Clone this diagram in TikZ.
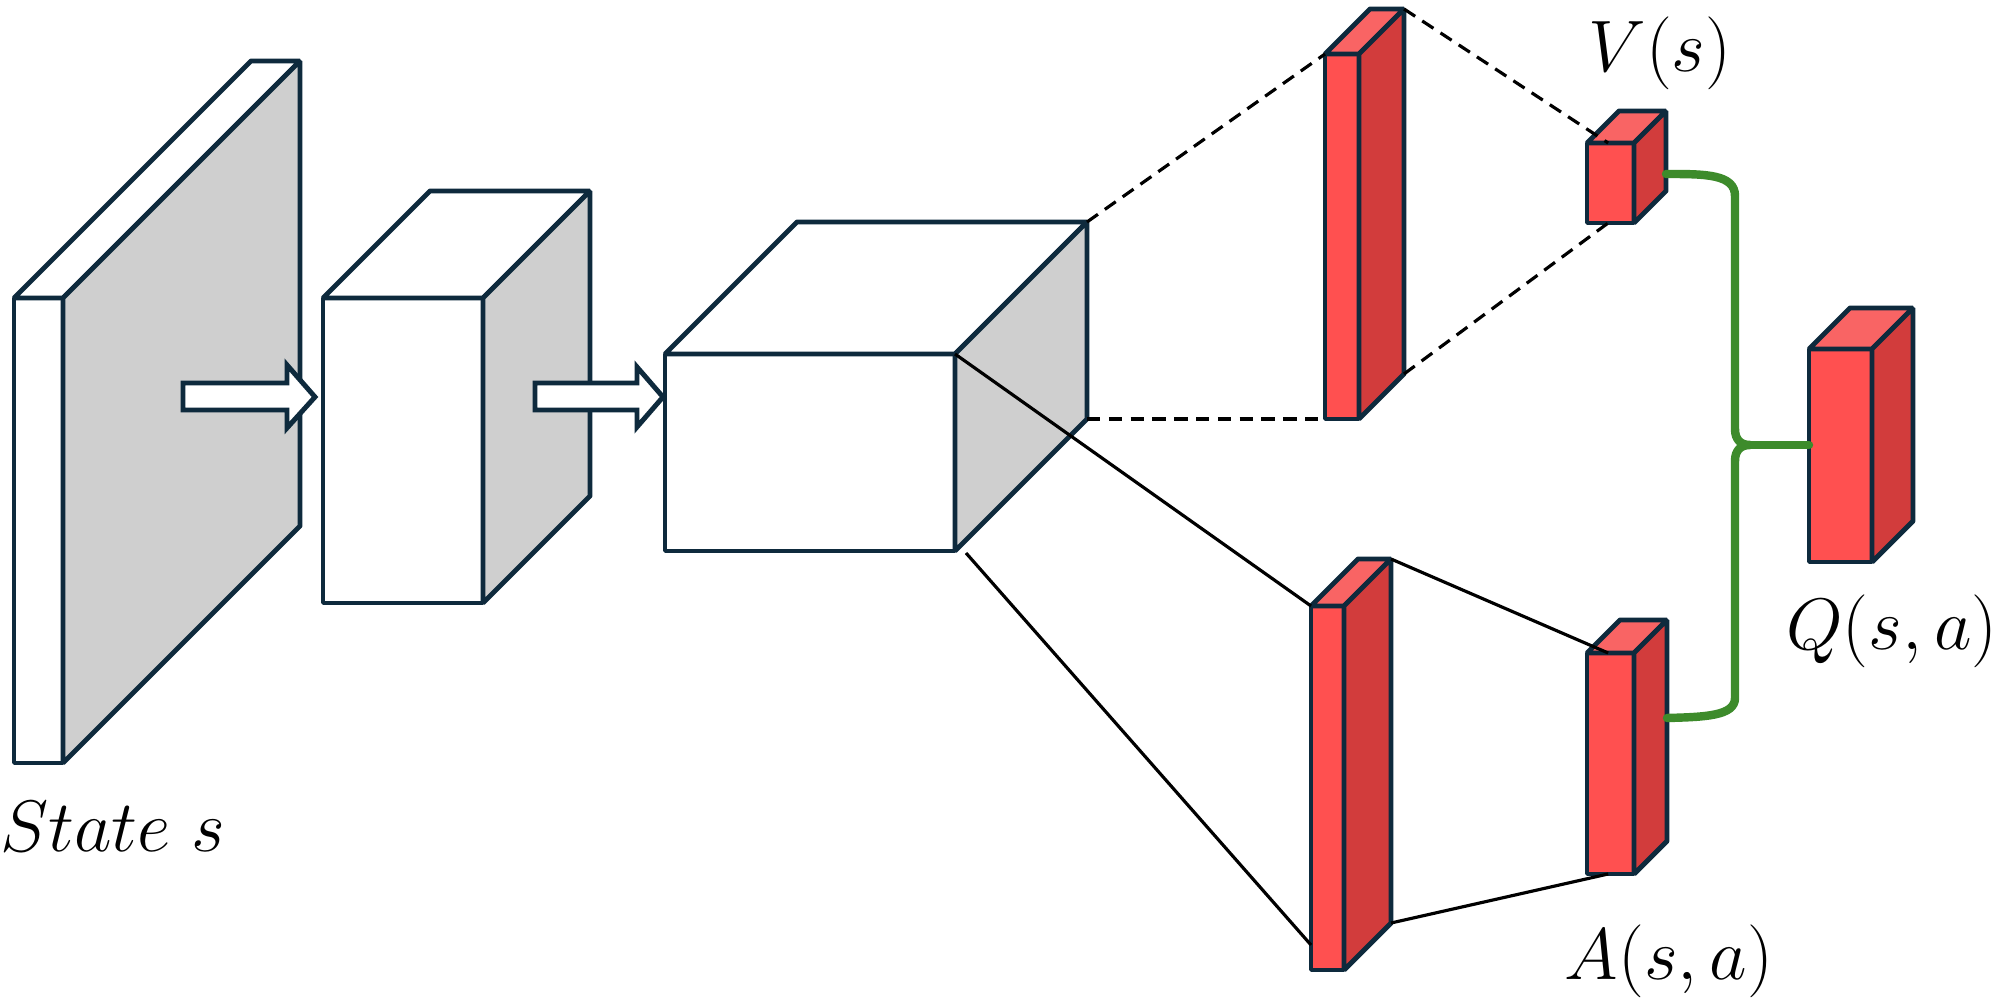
\documentclass[tikz,border=0pt]{standalone}
\usetikzlibrary{calc}
\definecolor{outl}{HTML}{0E2A3D}
\definecolor{panelgray}{HTML}{CFCFCF}
\definecolor{redF}{HTML}{FF5050}
\definecolor{redT}{HTML}{F96464}
\definecolor{redS}{HTML}{D23C3C}
\definecolor{brace}{HTML}{3D8B2B}
\newcommand{\cuboid}[9]{%
  \coordinate (#1-ftl) at (#2,#3);
  \coordinate (#1-ftr) at ({#2+#4},#3);
  \coordinate (#1-fbr) at ({#2+#4},{#3+#5});
  \coordinate (#1-fbl) at (#2,{#3+#5});
  \coordinate (#1-btl) at ({#2+#6},{#3-#6});
  \coordinate (#1-btr) at ({#2+#4+#6},{#3-#6});
  \coordinate (#1-bbr) at ({#2+#4+#6},{#3+#5-#6});
  \coordinate (#1-ft) at ({#2+0.45*#4},#3);
  \coordinate (#1-fb) at ({#2+0.45*#4},{#3+#5});
  \filldraw[boxline, fill=#7] (#1-ftl) rectangle (#1-fbr);
  \filldraw[boxline, fill=#8] (#1-ftl) -- (#1-btl) -- (#1-btr) -- (#1-ftr) -- cycle;
  \filldraw[boxline, fill=#9] (#1-ftr) -- (#1-btr) -- (#1-bbr) -- (#1-fbr) -- cycle;
}
\begin{document}
\begin{tikzpicture}[x=0.01cm,y=-0.01cm,
  boxline/.style={draw=outl, line width=1.4pt, line join=bevel},
  blockarrow/.style={draw=outl, fill=white, line width=1.4pt, line join=miter},
  dashconn/.style={draw=black, line width=0.9pt, dash pattern=on 3.8pt off 2.4pt},
  solidconn/.style={draw=black, line width=0.9pt},
  bracepath/.style={draw=brace, line width=2.4pt, line join=round, line cap=round},
  lbl/.style={font=\fontsize{19.6}{24}\selectfont, inner sep=0pt, anchor=base}]
\useasboundingbox (0,0) rectangle (2000,1001);

% feature maps
\cuboid{p1}{14}{298}{49}{465}{237}{white}{white}{panelgray}
\cuboid{p2}{323}{298}{160}{305}{107}{white}{white}{panelgray}
\cuboid{p3}{665}{354}{290}{197}{132}{white}{white}{panelgray}

% block arrows
\filldraw[blockarrow] (183,383) -- (287,383) -- (287,365) -- (315,397) -- (287,428) -- (287,410) -- (183,410) -- cycle;
\filldraw[blockarrow] (535,383) -- (637,383) -- (637,367) -- (663,397) -- (637,427) -- (637,410) -- (535,410) -- cycle;

% red layers
\cuboid{v1}{1325}{54}{34}{365}{45}{redF}{redT}{redS}
\cuboid{v}{1587}{143}{47}{80}{32}{redF}{redT}{redS}
\cuboid{a1}{1311}{606}{33}{364}{47}{redF}{redT}{redS}
\cuboid{a}{1587}{653}{47}{221}{33}{redF}{redT}{redS}
\cuboid{q}{1809}{349}{63}{213}{41}{redF}{redT}{redS}

% connectors
\coordinate (p3low) at (966,553);
\coordinate (a1low) at (1311,945);
\draw[dashconn] (p3-btr) -- (v1-ftl);
\draw[dashconn] (p3-bbr) -- (v1-fbl);
\draw[dashconn] (v1-btr) -- (v-ft);
\draw[dashconn] (v1-bbr) -- (v-fb);
\draw[solidconn] (p3-ftr) -- (a1-ftl);
\draw[solidconn] (p3low) -- (a1low);
\draw[solidconn] (a1-btr) -- (a-ft);
\draw[solidconn] (a1-bbr) -- (a-fb);

% green combining brace
\coordinate (vout) at (1666,174);
\coordinate (aout) at (1667,718);
\coordinate (cusp) at (1750,445);
\coordinate (qin) at (1809,445);
\draw[bracepath] (vout) .. controls (1705,174) and (1735,174) .. (1735,196)
  -- (1735,429) .. controls (1735,440) and (1741,445) .. (cusp)
  .. controls (1741,445) and (1735,450) .. (1735,461)
  -- (1735,698) .. controls (1735,716) and (1705,717) .. (aout);
\draw[bracepath] (cusp) -- (qin);

% labels
\node[lbl] (state) at (113,852) {$State\ s$};
\node[lbl] (vlab) at (1660,72) {$V(s)$};
\node[lbl] (qlab) at (1892,650) {$Q(s,a)$};
\node[lbl] (alab) at (1669,980) {$A(s,a)$};
\end{tikzpicture}
\end{document}
